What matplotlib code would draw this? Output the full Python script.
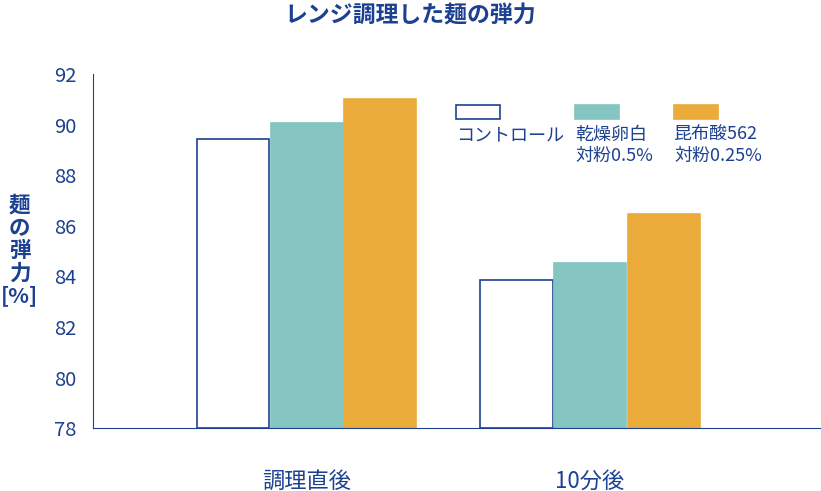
import matplotlib
matplotlib.use("Agg")
import matplotlib.pyplot as plt
from matplotlib.patches import Rectangle

plt.rcParams["font.family"] = ["Noto Sans CJK JP", "DejaVu Sans"]

NAVY = "#1d4191"
TEAL = "#84c4c1"
ORANGE = "#eaab3a"

groups = ["調理直後", "10分後"]
control = [89.45, 83.85]
egg_white = [90.05, 84.55]
kombu = [91.0, 86.45]
yticks = [78, 80, 82, 84, 86, 88, 90, 92]

fig = plt.figure(figsize=(8.21, 4.91), dpi=100)
ax = fig.add_axes([0.113, 0.128, 0.886, 0.721])

centers = [214, 497]
width = 72
series = [(control, "white", NAVY), (egg_white, TEAL, TEAL), (kombu, ORANGE, ORANGE)]
for i, (vals, fc, ec) in enumerate(series):
    xs = [c + (i - 1) * (width + 1.5) for c in centers]
    ax.bar(xs, [v - 78 for v in vals], bottom=78, width=width, color=fc,
           edgecolor=ec, linewidth=1.2, zorder=2)

ax.set_xlim(0, 727)
ax.set_ylim(78, 92)
ax.set_yticks(yticks)
ax.set_yticklabels([str(t) for t in yticks], fontsize=14.5, color=NAVY)
ax.set_xticks(centers)
ax.set_xticklabels(groups, fontsize=16, color=NAVY)
ax.tick_params(axis="x", length=0, pad=30)
ax.tick_params(axis="y", length=0, pad=12)
for s in ["top", "right"]:
    ax.spines[s].set_visible(False)
ax.spines["left"].set_color(NAVY)
ax.spines["bottom"].set_color(NAVY)

fig.text(0.5, 0.968, "レンジ調理した麺の弾力", ha="center", va="center",
         fontsize=16.5, fontweight="bold", color=NAVY)
fig.text(0.024, 0.49, "麺\nの\n弾\n力\n[%]", ha="center", va="center",
         fontsize=15.5, fontweight="bold", color=NAVY, linespacing=1.1)

# manual legend (figure pixel coords -> fraction)
W, H = 821, 491
legend = [(456, "white", NAVY, "コントロール"),
          (575, TEAL, TEAL, "乾燥卵白\n対粉0.5%"),
          (674, ORANGE, ORANGE, "昆布酸562\n対粉0.25%")]
for x0, fc, ec, label in legend:
    fig.patches.append(Rectangle((x0 / W, 1 - 119 / H), 44 / W, 14 / H,
                                 transform=fig.transFigure, facecolor=fc,
                                 edgecolor=ec, linewidth=1.2))
    fig.text(x0 / W, 1 - 126 / H, label, ha="left", va="top", fontsize=13,
             color=NAVY, linespacing=1.2)

fig.savefig("out.png", dpi=100)
